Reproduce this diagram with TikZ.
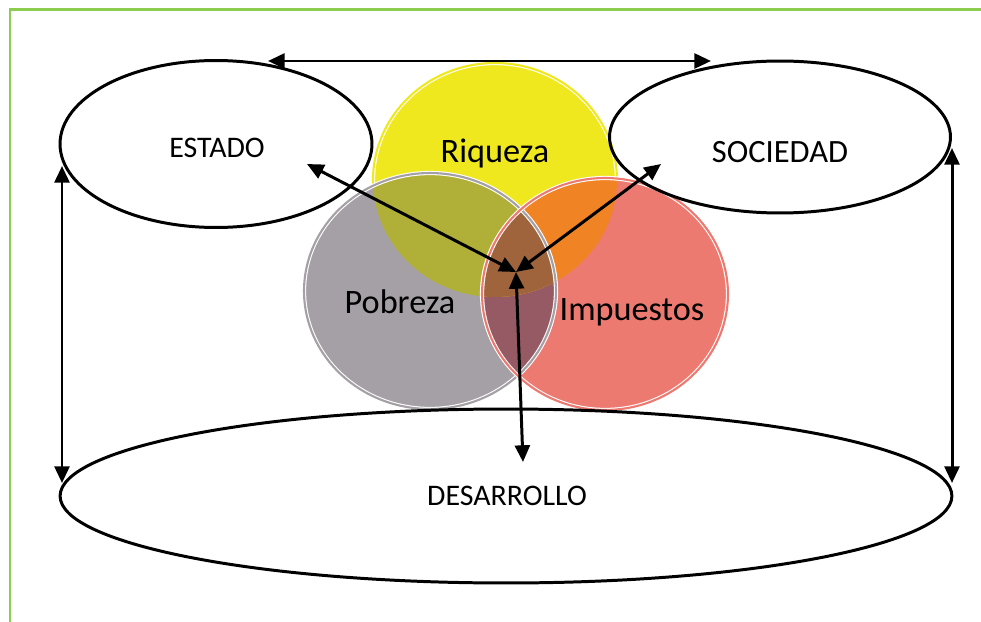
\documentclass[tikz,border=0pt]{standalone}
\usepackage{fontspec}
\setmainfont{Carlito}
\usepackage{tikz}
\usetikzlibrary{arrows.meta,shapes.geometric}

\definecolor{framegreen}{RGB}{140,205,80}
\definecolor{riqcol}{RGB}{240,232,30}
\definecolor{pobcol}{RGB}{165,160,165}
\definecolor{impcol}{RGB}{236,122,112}
\definecolor{mixYP}{RGB}{176,176,56}
\definecolor{mixYI}{RGB}{240,132,36}
\definecolor{mixPI}{RGB}{150,90,100}
\definecolor{mixAll}{RGB}{160,100,60}

\tikzset{
    ell/.style={ellipse, draw=black, line width=1.7pt, inner sep=0pt},
    arr/.style={{Triangle[length=9.5pt,width=8.5pt]}-{Triangle[length=9.5pt,width=8.5pt]}, line width=1.7pt},
    elltext/.style={anchor=base, font=\fontsize{17}{19}\selectfont},
    circtext/.style={anchor=base, font=\fontsize{19.5}{21}\selectfont},
    ring/.style={draw=white, line width=0.6pt, double distance=1.2pt}
}

\def\riqueza{(495,180) ellipse [x radius=2.44cm, y radius=2.34cm]}
\def\pobreza{(430,291) ellipse [x radius=2.52cm, y radius=2.36cm]}
\def\impuestos{(605,294) ellipse [x radius=2.46cm, y radius=2.32cm]}

\begin{document}
\begin{tikzpicture}[x=0.02cm,y=-0.02cm]
    \useasboundingbox (0,0) rectangle (981,622);
    \fill[white] (0,0) rectangle (981,622);
    \draw[framegreen, line width=1.4pt] (10,622) -- (10,9.5) -- (981,9.5);

    % circles and their overlaps
    \fill[riqcol] \riqueza;
    \draw[ring, double=riqcol] \riqueza;
    \fill[pobcol] \pobreza;
    \fill[impcol] \impuestos;
    \begin{scope}
        \clip \pobreza;
        \fill[mixPI] \impuestos;
    \end{scope}
    \begin{scope}
        \clip \riqueza;
        \fill[mixYP] \pobreza;
        \fill[mixYI] \impuestos;
        \clip \pobreza;
        \fill[mixAll] \impuestos;
    \end{scope}
    \draw[ring, double=pobcol] \pobreza;
    \draw[ring, double=impcol] \impuestos;

    \node[circtext] (riq) at (495,162) {Riqueza};
    \node[circtext] (pob) at (400,313) {Pobreza};
    \node[circtext] (imp) at (632,320) {Impuestos};

    % ellipses
    \node[ell, minimum width=6.24cm, minimum height=3.34cm] (estado) at (216,144) {};
    \node[ell, minimum width=6.82cm, minimum height=3.04cm] (sociedad) at (780,137) {};
    \node[ell, minimum width=17.84cm, minimum height=3.48cm] (desarrollo) at (506,496) {};
    \node[elltext] (estado-txt) at (217,157) {ESTADO};
    \node[elltext, font=\fontsize{18.5}{20}\selectfont] (sociedad-txt) at (780,162) {SOCIEDAD};
    \node[elltext] (desarrollo-txt) at (507,505) {DESARROLLO};

    % arrows
    \coordinate (hub) at (516,272);
    \coordinate (top-l) at (268,61);
    \coordinate (top-r) at (711,61);
    \coordinate (left-t) at (62,166);
    \coordinate (left-b) at (62,483);
    \coordinate (right-t) at (952,148);
    \coordinate (right-b) at (952,483);
    \coordinate (estado-in) at (307,164);
    \coordinate (sociedad-in) at (661,164);
    \coordinate (desarrollo-in) at (523,462);

    \draw[arr] (top-l) -- (top-r);
    \draw[arr] (left-t) -- (left-b);
    \draw[arr] (right-t) -- (right-b);
    \foreach \t in {estado-in,sociedad-in,desarrollo-in}{
        \draw[arr] (hub) -- (\t);
    }
\end{tikzpicture}
\end{document}
